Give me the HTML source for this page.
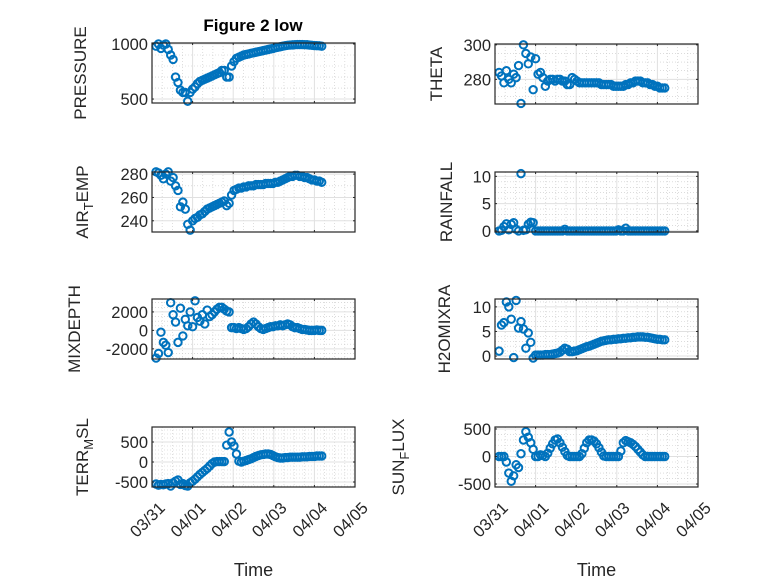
<!DOCTYPE html>
<html><head><meta charset="utf-8"><style>
body{margin:0;background:#fff;}
svg{display:block;font-family:"Liberation Sans",sans-serif;}
</style></head><body>
<svg id="fig" width="778" height="583" viewBox="0 0 778 583" xmlns="http://www.w3.org/2000/svg">
<rect width="778" height="583" fill="#fff"/>
<text x="253" y="31" text-anchor="middle" font-size="17" font-weight="bold" fill="#000">Figure 2 low</text>
</svg>
<script>
const times=[0.10,0.16,0.22,0.28,0.34,0.40,0.46,0.52,0.58,0.64,0.70,0.76,0.82,0.88,0.94,1.00,1.06,1.12,1.18,1.24,1.30,1.36,1.42,1.48,1.54,1.60,1.66,1.72,1.78,1.84,1.90,1.96,2.02,2.08,2.14,2.20,2.26,2.32,2.38,2.44,2.50,2.56,2.62,2.68,2.74,2.80,2.86,2.92,2.98,3.04,3.10,3.16,3.22,3.28,3.34,3.40,3.46,3.52,3.58,3.64,3.70,3.76,3.82,3.88,3.94,4.00,4.06,4.12,4.18];
const xTickLabels=["03/31","04/01","04/02","04/03","04/04","04/05"];
const pressure=[980,1000,960,990,1000,950,900,860,700,650,580,560,560,480,560,590,610,640,660,670,680,690,700,710,720,730,740,760,760,700,700,800,840,870,880,890,900,905,910,915,920,925,930,935,940,945,950,955,960,965,970,975,980,985,988,990,992,994,995,995,995,994,993,990,988,986,985,983,980];
const airTemp=[282,281,279,276,280,282,274,277,270,266,252,256,250,237,232,240,242,243,245,246,248,250,251,252,253,254,255,256,257,253,255,262,266,267,268,268,269,269,270,270,270,271,271,271,271,272,272,272,272,273,273,274,275,276,277,278,278,279,279,278,278,277,277,276,275,275,274,274,273];
const mixDepth=[-3000,-2500,-200,-1300,-1600,-2400,3000,1700,900,-1300,2400,-600,1200,500,2000,400,3200,1400,1000,1700,700,2200,1500,1700,2000,2300,2500,2500,2300,2100,2000,300,300,200,300,200,100,200,400,700,900,700,400,200,100,200,300,400,400,500,500,600,500,600,700,600,400,300,300,200,100,100,50,0,0,0,50,0,0];
const terrMsl=[-550,-580,-560,-570,-550,-540,-600,-520,-480,-450,-560,-540,-590,-600,-520,-480,-430,-370,-310,-260,-210,-160,-100,-40,0,10,10,10,10,420,750,500,400,200,20,0,20,40,60,80,110,140,160,180,190,200,200,190,160,130,110,100,100,110,110,120,120,120,120,120,130,130,130,140,140,140,150,150,150];
const theta=[284,282,278,285,280,278,283,281,288,266,300,295,289,293,274,292,283,284,281,276,279,280,280,279,280,280,279,279,277,277,281,280,279,278,278,278,278,278,278,278,278,278,277,277,277,277,277,276,276,276,276,276,277,277,278,278,279,279,279,278,278,278,277,277,276,276,275,275,275];
const rainfall=[0,0.1,0.8,1.3,0.2,1.2,1.5,0.3,0,10.5,0.1,0.2,1.2,1.6,1.5,0,0,0,0,0,0,0,0,0,0,0,0,0.3,0,0,0,0,0,0,0,0,0,0,0,0,0,0,0,0,0,0,0,0,0,0.2,0,0,0.5,0,0,0,0,0,0,0,0,0,0,0,0,0,0,0,0];
const h2o=[1.0,6.3,6.8,11,10,7.5,-0.3,11.3,5.7,7,5.5,1.6,4.7,2.8,-0.4,0.2,0.2,0.2,0.2,0.3,0.3,0.3,0.4,0.5,0.6,0.8,1.2,1.6,1.4,0.9,0.9,1.0,1.1,1.3,1.5,1.7,1.9,2.0,2.2,2.4,2.6,2.8,3.0,3.1,3.2,3.3,3.3,3.4,3.4,3.5,3.5,3.6,3.6,3.7,3.7,3.8,3.8,3.9,3.9,3.9,3.8,3.8,3.7,3.6,3.5,3.4,3.4,3.3,3.3];
const sunFlux=[0,0,0,-100,-300,-450,-350,-150,-200,50,300,450,350,250,130,0,0,30,20,0,60,150,230,300,320,250,170,90,20,0,0,0,0,0,50,150,250,300,300,280,230,160,80,10,0,0,0,0,0,0,100,250,290,270,250,220,180,130,80,30,0,0,0,0,0,0,0,0,0];

const pressureTicks=[500,1000], airTicks=[240,260,280], mixTicks=[-2000,0,2000], terrTicks=[-500,0,500];
const thetaTicks=[280,300], rainTicks=[0,5,10], h2oTicks=[0,5,10], sunTicks=[-500,0,500];

const NS="http://www.w3.org/2000/svg";
const svg=document.getElementById('fig');
function mk(tag,attrs,parent){const e=document.createElementNS(NS,tag);for(const k in attrs)e.setAttribute(k,attrs[k]);(parent||svg).appendChild(e);return e;}

const panels=[
 {key:'pressure',vals:pressure,ticks:pressureTicks,ylim:[464,1009],minor:100,x0:152,y0:43,label:'PRESSURE',lx:86},
 {key:'air-temp',vals:airTemp,ticks:airTicks,ylim:[230.4,281.8],minor:10,x0:152,y0:172,label:['AIR','T','EMP'],lx:88},
 {key:'mixdepth',vals:mixDepth,ticks:mixTicks,ylim:[-3100,3400],minor:500,x0:152,y0:299,label:'MIXDEPTH',lx:80},
 {key:'terr-msl',vals:terrMsl,ticks:terrTicks,ylim:[-625,875],minor:100,x0:152,y0:427,label:['TERR','M','SL'],lx:88,xt:true},
 {key:'theta',vals:theta,ticks:thetaTicks,ylim:[265.7,300.5],minor:5,x0:495,y0:44,label:'THETA',lx:442},
 {key:'rainfall',vals:rainfall,ticks:rainTicks,ylim:[-0.2,10.8],minor:1,x0:495,y0:172,label:'RAINFALL',lx:452},
 {key:'h2omixra',vals:h2o,ticks:h2oTicks,ylim:[-0.6,11.6],minor:1,x0:495,y0:299,label:'H2OMIXRA',lx:450},
 {key:'sun-flux',vals:sunFlux,ticks:sunTicks,ylim:[-554,536],minor:100,x0:495,y0:427,label:['SUN','F','LUX'],lx:404,xt:true}
];
const W=203,H=60;
panels.forEach(p=>{
  const g=mk('g',{});
  
  
  const xs=t=>p.x0+t/5*W;
  const ys=v=>p.y0+H-(v-p.ylim[0])/(p.ylim[1]-p.ylim[0])*H;
  mk('rect',{x:p.x0,y:p.y0,width:W,height:H,fill:'#fff'},g);
  for(let t=0.25;t<5;t+=0.25){if(Math.abs(t-Math.round(t))<1e-6)continue;
    mk('line',{x1:xs(t),x2:xs(t),y1:p.y0,y2:p.y0+H,stroke:'#c8c8c8','stroke-width':0.6,'stroke-dasharray':'1,2'},g);}
  const m0=Math.ceil(p.ylim[0]/p.minor)*p.minor;
  for(let v=m0;v<=p.ylim[1];v+=p.minor){if(p.ticks.includes(v))continue;
    mk('line',{x1:p.x0,x2:p.x0+W,y1:ys(v),y2:ys(v),stroke:'#c8c8c8','stroke-width':0.6,'stroke-dasharray':'1,2'},g);}
  for(let d=1;d<5;d++) mk('line',{x1:xs(d),x2:xs(d),y1:p.y0,y2:p.y0+H,stroke:'#e0e0e0','stroke-width':1},g);
  p.ticks.forEach(v=>mk('line',{x1:p.x0,x2:p.x0+W,y1:ys(v),y2:ys(v),stroke:'#e0e0e0','stroke-width':1},g));
  const pg=mk('g',{},g);
  
  
  p.vals.forEach((v,i)=>{
    const c=mk('circle',{cx:xs(times[i]),cy:ys(v),r:3.7,fill:'none',stroke:'#0072BD','stroke-width':2},pg);
    
    
  });
  mk('rect',{x:p.x0,y:p.y0,width:W,height:H,fill:'none',stroke:'#262626','stroke-width':1.2},g);
  for(let d=0;d<=5;d++){mk('line',{x1:xs(d),x2:xs(d),y1:p.y0+H,y2:p.y0+H-2,stroke:'#262626'},g);
    mk('line',{x1:xs(d),x2:xs(d),y1:p.y0,y2:p.y0+2,stroke:'#262626'},g);}
  p.ticks.forEach(v=>{
    mk('line',{x1:p.x0,x2:p.x0+2,y1:ys(v),y2:ys(v),stroke:'#262626'},g);
    mk('line',{x1:p.x0+W,x2:p.x0+W-2,y1:ys(v),y2:ys(v),stroke:'#262626'},g);
    const t=mk('text',{x:p.x0-4,y:ys(v)+6,'text-anchor':'end','font-size':16.5,fill:'#262626'},g);
    t.textContent=v;
    
    
  });
  const cy=p.y0+H/2;
  const yl=mk('text',{x:p.lx,y:cy,transform:`rotate(-90 ${p.lx} ${cy})`,'text-anchor':'middle','font-size':17,fill:'#262626'},g);
  
  
  if(Array.isArray(p.label)){
    const a=mk('tspan',{},yl);a.textContent=p.label[0];
    const b=mk('tspan',{dy:5,'font-size':13},yl);b.textContent=p.label[1];
    const c=mk('tspan',{dy:-5},yl);c.textContent=p.label[2];
  } else yl.textContent=p.label;
  if(p.xt){
    xTickLabels.forEach((s,d)=>{
      const x=xs(d)+14,y=p.y0+H+22;
      const t=mk('text',{x:x,y:y,transform:`rotate(-45 ${x} ${y})`,'text-anchor':'end','font-size':16.5,fill:'#262626'},g);
      t.textContent=s;
      
      
    });
    const xl=mk('text',{x:p.x0+W/2,y:576,'text-anchor':'middle','font-size':18,fill:'#262626'},g);
    xl.textContent='Time';
    
    
  }
});
</script>
</body></html>
